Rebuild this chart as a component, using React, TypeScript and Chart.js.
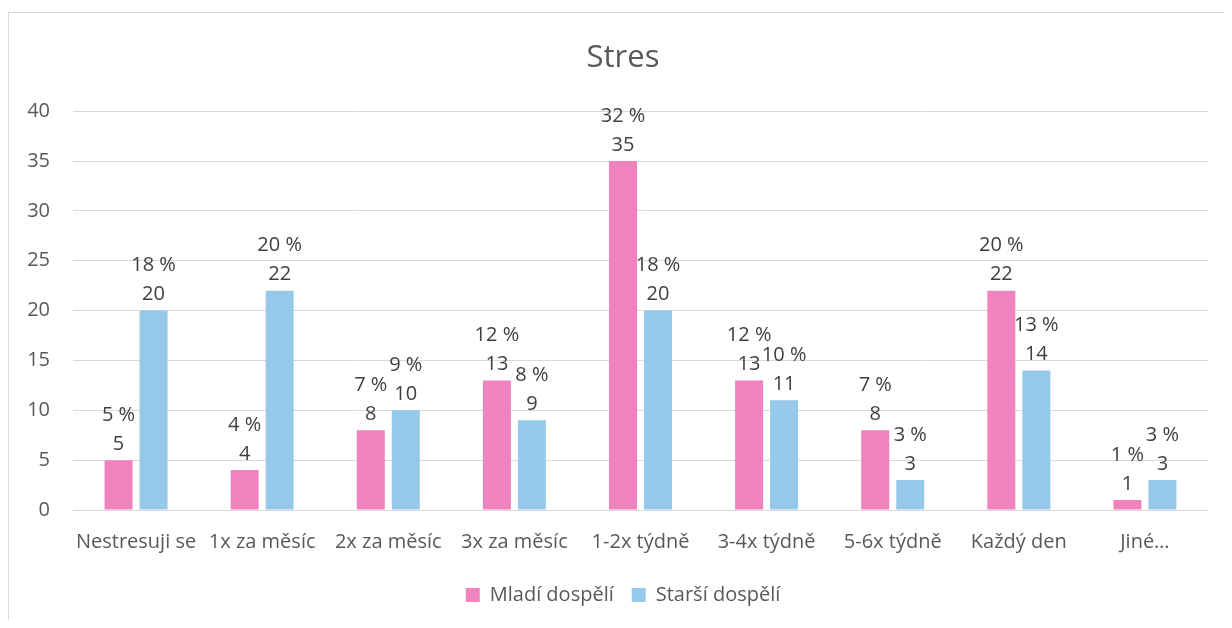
import React, { useEffect, useRef } from "react";
import { Chart, registerables } from "chart.js";

Chart.register(...registerables);

const categories = [
  "Nestresuji se",
  "1x za měsíc",
  "2x za měsíc",
  "3x za měsíc",
  "1-2x týdně",
  "3-4x týdně",
  "5-6x týdně",
  "Každý den",
  "Jiné…",
];
const seriesNames = ["Mladí dospělí", "Starší dospělí"];
const mladiValues = [5, 4, 8, 13, 35, 13, 8, 22, 1];
const starsiValues = [20, 22, 10, 9, 20, 11, 3, 14, 3];
const mladiPercents = [5, 4, 7, 12, 32, 12, 7, 20, 1];
const starsiPercents = [18, 20, 9, 8, 18, 10, 3, 13, 3];
const yTicks = [0, 5, 10, 15, 20, 25, 30, 35, 40];

const FONT = "'Open Sans', Lato, sans-serif";
const PINK = "#F083BE";
const BLUE = "#96C9E9";

const labelPlugin = {
  id: "valueLabels",
  afterLayout(chart: any) {
    // let the y tick labels use the space left of the axis box
    if (chart.scales.y) chart.scales.y.left = 0;
  },
  afterDatasetsDraw(chart: any) {
    const ctx = chart.ctx;
    const pcts = [mladiPercents, starsiPercents];
    ctx.save();
    ctx.font = `20px ${FONT}`;
    ctx.fillStyle = "#404040";
    ctx.textAlign = "center";
    ctx.textBaseline = "middle";
    chart.data.datasets.forEach((ds: any, di: number) => {
      const meta = chart.getDatasetMeta(di);
      meta.data.forEach((bar: any, i: number) => {
        ctx.fillText(String(ds.data[i]), bar.x, bar.y - 16);
        ctx.fillText(`${pcts[di][i]} %`, bar.x, bar.y - 45);
      });
    });
    ctx.restore();
  },
};

export default function App() {
  const ref = useRef<HTMLCanvasElement | null>(null);

  useEffect(() => {
    if (!ref.current) return;
    const chart = new Chart(ref.current, {
      type: "bar",
      data: {
        labels: categories,
        datasets: [
          {
            label: seriesNames[0],
            data: mladiValues,
            backgroundColor: PINK,
            barPercentage: 0.8,
            categoryPercentage: 0.555,
          },
          {
            label: seriesNames[1],
            data: starsiValues,
            backgroundColor: BLUE,
            barPercentage: 0.8,
            categoryPercentage: 0.555,
          },
        ],
      },
      options: {
        animation: false,
        responsive: false,
        maintainAspectRatio: false,
        layout: { padding: { left: 29, right: 24, top: 0, bottom: 5 } },
        plugins: {
          title: {
            display: true,
            text: "Stres",
            color: "#595959",
            font: { family: FONT, size: 31, weight: "normal" },
            padding: { top: 27, bottom: 34 },
          },
          legend: {
            position: "bottom",
            labels: {
              color: "#595959",
              font: { family: FONT, size: 20 },
              boxWidth: 14,
              boxHeight: 14,
              padding: 18,
            },
          },
          tooltip: { enabled: false },
        },
        scales: {
          x: {
            grid: { display: false },
            border: { display: false },
            ticks: {
              color: "#595959",
              font: { family: FONT, size: 20 },
              padding: 12,
              maxRotation: 0,
              autoSkip: false,
            },
            afterFit: (s: any) => {
              s.height = 57;
            },
          },
          y: {
            min: 0,
            max: 40,
            afterBuildTicks: (s: any) => {
              s.ticks = yTicks.map((v) => ({ value: v }));
            },
            grid: { color: "#D9D9D9", lineWidth: 1, drawTicks: false },
            border: { display: false },
            ticks: {
              color: "#595959",
              font: { family: FONT, size: 20 },
              padding: 23,
            },
            afterFit: (s: any) => {
              s.width = 35;
            },
          },
        },
      },
      plugins: [labelPlugin],
    });
    return () => chart.destroy();
  }, []);

  return (
    <div
      style={{
        marginTop: 4,
        width: 1223,
        height: 607,
        borderTop: "1px solid #D9D9D9",
        borderLeft: "1px solid #D9D9D9",
        background: "#fff",
      }}
    >
      <canvas ref={ref} width={1223} height={607} style={{ display: "block" }} />
    </div>
  );
}
